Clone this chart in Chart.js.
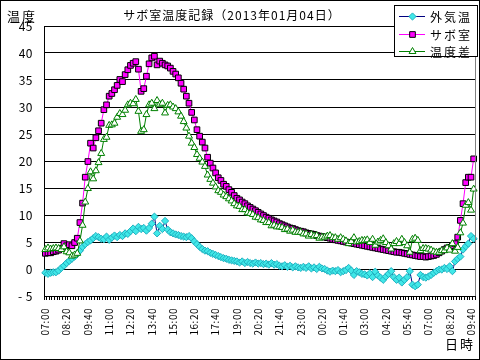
<!DOCTYPE html>
<html lang="ja">
<head>
<meta charset="utf-8">
<script src="https://cdn.jsdelivr.net/npm/chart.js@4/dist/chart.umd.min.js"></script>
<style>
  html, body { margin: 0; padding: 0; background: #fff; }
  #wrap { width: 480px; height: 360px; }
</style>
</head>
<body>
<div id="wrap"><canvas id="c" width="480" height="360"></canvas></div>
<script>
// 測定は 07:00 から 10分おき、ラベルは 80分ごと
const startMin = 7 * 60;
const stepMin = 10;
const labelEvery = 8;

const TITLE = 'サボ室温度記録（2013年01月04日）';
const FONT = "'Noto Sans CJK JP', 'DejaVu Sans', sans-serif";

// 外気温
const outside = [
  -0.7, -0.9, -0.7, -0.6, -0.6, -0.3, 0.2, 0.6, 1.1, 1.5,
  1.9, 2.3, 2.8, 3.4, 4.1, 4.6, 5.0, 5.3, 5.7, 6.1,
  5.9, 5.6, 5.5, 6.0, 5.4, 5.8, 6.2, 5.9, 6.3, 6.1,
  6.6, 6.5, 7.0, 7.5, 7.0, 7.8, 7.4, 7.6, 7.1, 7.6,
  8.4, 9.7, 6.6, 8.0, 7.4, 8.9, 7.3, 6.8, 6.6, 6.4,
  6.3, 6.1, 6.0, 5.9, 6.1, 5.7, 5.1, 4.6, 4.1, 3.7,
  3.4, 3.3, 3.0, 2.8, 2.6, 2.4, 2.2, 2.0, 1.9, 1.7,
  1.6, 1.5, 1.4, 1.2, 1.4, 1.1, 1.3, 1.1, 1.0, 1.2,
  1.0, 1.1, 0.9, 1.0, 0.8, 1.1, 0.8, 0.9, 0.6, 0.5,
  0.7, 0.4, 0.6, 0.3, 0.5, 0.3, 0.2, 0.4, 0.2, 0.5,
  0.1, 0.3, 0.0, 0.4, 0.1, 0.0, -0.3, -0.5, -0.3, -0.4,
  -0.2, -0.6, -0.4, -0.2, 0.2, -0.3, -1.1, -0.4, -0.6, -0.9,
  -1.0, -1.2, -0.8, -1.5, -0.5, -1.2, -1.6, -2.0, -1.4, -0.9,
  -0.4, -1.5, -2.0, -1.6, -2.5, -2.0, -1.5, -0.4, -2.9, -3.2,
  -2.9, -1.1, -1.5, -1.6, -1.4, -1.1, -0.7, -0.4, -0.1, -0.1,
  0.2, 0.0, 0.5, -0.4, 1.4, 1.9, 2.3, 3.6, 4.2, 4.7,
  6.1, 5.6
];

// サボ室
const room = [
  2.9, 3.0, 3.0, 3.2, 3.3, 3.5, 3.8, 4.7, 4.3, 4.5,
  4.3, 4.9, 5.7, 8.6, 12.2, 17.0, 19.9, 23.3, 22.4, 24.3,
  25.6, 27.0, 29.5, 30.4, 32.0, 32.5, 33.2, 34.0, 35.1, 34.7,
  36.0, 36.9, 37.7, 38.1, 38.4, 37.0, 32.9, 33.4, 35.7, 38.0,
  39.1, 39.4, 37.8, 38.5, 38.1, 37.8, 37.6, 37.2, 36.6, 36.1,
  35.4, 34.4, 33.3, 32.0, 30.7, 29.0, 27.6, 25.8, 24.6, 23.5,
  22.4, 20.7, 19.6, 18.7, 17.8, 16.9, 16.4, 15.7, 15.3, 14.7,
  14.2, 13.6, 13.1, 12.8, 12.4, 12.1, 11.7, 11.4, 11.1, 10.8,
  10.5, 10.2, 9.9, 9.6, 9.4, 9.1, 8.9, 8.7, 8.4, 8.2,
  8.0, 7.8, 7.6, 7.5, 7.3, 7.1, 7.0, 6.9, 6.7, 6.6,
  6.5, 6.4, 6.2, 6.1, 6.0, 5.9, 5.8, 5.7, 5.5, 5.4,
  5.3, 5.2, 5.1, 5.0, 4.9, 4.8, 4.7, 4.6, 4.5, 4.4,
  4.3, 4.2, 4.1, 4.0, 3.9, 3.8, 3.7, 3.6, 3.5, 3.4,
  3.3, 3.2, 3.1, 3.1, 3.0, 2.9, 2.8, 2.7, 2.6, 2.5,
  2.4, 2.3, 2.3, 2.2, 2.3, 2.4, 2.5, 2.7, 3.0, 3.3,
  3.6, 3.9, 4.0, 4.3, 4.7, 5.9, 9.0, 12.1, 16.0, 17.0,
  17.0, 20.4
];

// 温度差
const diff = [
  3.6, 3.9, 3.7, 3.8, 3.9, 3.8, 3.6, 4.1, 3.2, 3.0,
  2.4, 2.6, 2.9, 5.2, 8.1, 12.4, 14.9, 18.0, 16.7, 18.2,
  19.7, 21.4, 24.0, 24.4, 26.6, 26.7, 27.0, 28.1, 28.8, 28.6,
  29.4, 30.4, 30.7, 30.6, 31.4, 29.2, 25.5, 25.8, 28.6, 30.4,
  30.7, 29.7, 31.2, 30.5, 30.7, 28.9, 30.3, 30.4, 30.0, 29.7,
  29.1, 28.3, 27.3, 26.1, 24.6, 23.3, 22.5, 21.2, 20.5, 19.8,
  19.0, 17.4, 16.6, 15.9, 15.2, 14.5, 14.2, 13.7, 13.4, 13.0,
  12.6, 12.1, 11.7, 11.6, 11.0, 11.0, 10.4, 10.3, 10.1, 9.6,
  9.5, 9.1, 9.0, 8.6, 8.6, 8.0, 8.1, 7.8, 7.8, 7.7,
  7.3, 7.4, 7.0, 7.2, 6.8, 6.8, 6.8, 6.5, 6.5, 6.1,
  6.4, 6.1, 6.2, 5.7, 5.9, 5.9, 6.1, 6.2, 5.8, 5.8,
  5.5, 5.8, 5.5, 5.2, 4.7, 5.1, 5.8, 5.0, 5.1, 5.3,
  5.3, 5.4, 4.9, 5.5, 4.4, 5.0, 5.3, 5.6, 4.9, 4.3,
  3.7, 4.7, 5.1, 4.7, 5.5, 4.9, 4.3, 3.1, 5.5, 5.7,
  5.3, 3.4, 3.8, 3.8, 3.7, 3.5, 3.2, 3.1, 3.1, 3.4,
  3.4, 3.9, 3.5, 4.7, 3.3, 4.0, 6.7, 8.5, 11.8, 12.3,
  10.9, 14.8
];

// 時刻ラベル
const pad = n => String(n).padStart(2, '0');
const times = outside.map((_, i) => {
  const m = (startMin + i * stepMin) % 1440;
  return pad(Math.floor(m / 60)) + ':' + pad(m % 60);
});

// タイトル・凡例・枠を描く
const decorations = {
  id: 'decorations',
  beforeDraw(chart) {
    const ctx = chart.ctx;
    ctx.save();
    ctx.fillStyle = '#fff';
    ctx.fillRect(0, 0, chart.width, chart.height);
    ctx.restore();
    ctx.letterSpacing = '0.5px';
  },
  afterDraw(chart) {
    const ctx = chart.ctx;
    const a = chart.chartArea;
    ctx.save();

    // プロット右端
    const rx = Math.round(a.right) + 0.5;
    ctx.strokeStyle = '#808080';
    ctx.lineWidth = 1;
    ctx.beginPath();
    ctx.moveTo(rx, Math.round(a.top));
    ctx.lineTo(rx, Math.round(a.bottom));
    ctx.stroke();

    ctx.fillStyle = '#000';
    ctx.textBaseline = 'middle';
    ctx.font = '12px ' + FONT;
    ctx.letterSpacing = '1px';
    ctx.textAlign = 'center';
    ctx.fillText(TITLE, 232, 15);
    ctx.textAlign = 'left';
    ctx.letterSpacing = '2px';
    ctx.font = '13px ' + FONT;
    ctx.fillText('温度', 7, 16);
    ctx.fillText('日時', 445, 344);

    // 凡例
    ctx.fillStyle = '#fff';
    ctx.fillRect(394, 5, 83, 52);
    ctx.strokeStyle = '#000';
    ctx.strokeRect(394.5, 5.5, 83, 51);
    const rows = [16, 34, 51];
    chart.data.datasets.forEach((ds, i) => {
      const y = rows[i] + 0.5;
      ctx.strokeStyle = ds.borderColor;
      ctx.lineWidth = 1;
      ctx.beginPath();
      ctx.moveTo(399, y);
      ctx.lineTo(425, y);
      ctx.stroke();
      ctx.fillStyle = ds.pointBackgroundColor;
      ctx.strokeStyle = ds.pointBorderColor;
      Chart.helpers.drawPoint(ctx, {
        pointStyle: ds.pointStyle, rotation: 0,
        radius: ds.pointRadius, borderWidth: 1
      }, 412.5, y);
      ctx.fillStyle = '#000';
      ctx.font = '12px ' + FONT;
      ctx.letterSpacing = '2px';
      ctx.fillText(ds.label, 430, rows[i] + 1);
    });

    // 外枠
    ctx.strokeStyle = '#000';
    ctx.lineWidth = 1;
    ctx.strokeRect(0.5, 0.5, chart.width - 1, chart.height - 1);
    ctx.restore();
  }
};

new Chart(document.getElementById('c'), {
  type: 'line',
  data: {
    labels: times,
    datasets: [
      {
        label: '外気温', data: outside, order: 2,
        borderColor: '#000080', borderWidth: 1,
        pointStyle: 'rectRot', pointRadius: 3.6,
        pointBackgroundColor: '#40E8E8', pointBorderColor: '#20B0C0', pointBorderWidth: 1,
        clip: false
      },
      {
        label: 'サボ室', data: room, order: 1,
        borderColor: '#FF00FF', borderWidth: 1,
        pointStyle: 'rect', pointRadius: 4,
        pointBackgroundColor: '#FF00FF', pointBorderColor: '#000', pointBorderWidth: 1,
        clip: false
      },
      {
        label: '温度差', data: diff, order: 0,
        borderColor: '#008000', borderWidth: 1,
        pointStyle: 'triangle', pointRadius: 4,
        pointBackgroundColor: '#fff', pointBorderColor: '#008000', pointBorderWidth: 1,
        clip: false
      }
    ]
  },
  options: {
    responsive: false,
    animation: false,
    events: [],
    layout: { padding: { top: 26, right: 4, left: 0, bottom: 0 } },
    plugins: {
      legend: { display: false },
      title: { display: false },
      tooltip: { enabled: false }
    },
    scales: {
      x: {
        type: 'category',
        offset: true,
        grid: { drawOnChartArea: false, drawTicks: true, tickLength: 4, color: '#000', offset: true },
        border: { display: true, color: '#000', width: 1 },
        ticks: {
          autoSkip: false, minRotation: 90, maxRotation: 90, padding: 8,
          color: '#000', font: { family: FONT, size: 10 },
          callback: (v, i) => (i % labelEvery === 0 ? times[i] : '')
        },
        afterFit: s => { s.height = 64; s.paddingLeft = 0; s.paddingRight = 0; }
      },
      y: {
        min: -5, max: 45,
        grid: { color: '#000', lineWidth: 1, drawTicks: false },
        border: { display: true, color: '#000', width: 1 },
        ticks: {
          stepSize: 5, padding: 11, color: '#000',
          font: { family: FONT, size: 12 },
          callback: v => (v < 0 ? '- ' + Math.abs(v) : String(v))
        },
        afterFit: s => { s.width = 44; }
      }
    }
  },
  plugins: [decorations]
});
</script>
</body>
</html>
